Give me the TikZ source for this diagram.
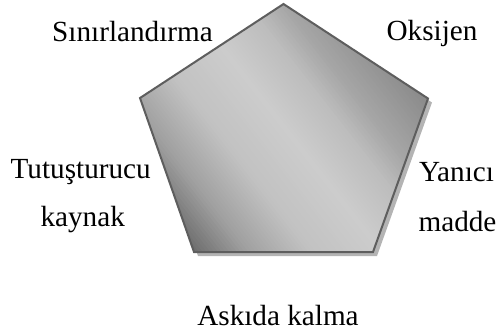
\documentclass[tikz,border=0pt]{standalone}
\usepackage{fontspec}
\setmainfont{Liberation Serif}
\definecolor{pentedge}{HTML}{5E5E5E}
\definecolor{pentshadow}{HTML}{B4B4B4}
\tikzset{
  lbl/.style={anchor=base, inner sep=0pt, font=\fontsize{14.6}{17}\selectfont},
}
\begin{document}
\begin{tikzpicture}[x=0.5pt,y=-0.5pt]
\useasboundingbox (0,0) rectangle (496,334);
\coordinate (A) at (283.5,4);
\coordinate (B) at (428,98.5);
\coordinate (C) at (373,252);
\coordinate (D) at (194,252);
\coordinate (E) at (140,98);
% shadow
\fill[pentshadow] ([shift={(4,4)}]A) -- ([shift={(4,4)}]B) -- ([shift={(4,4)}]C) -- ([shift={(4,4)}]D) -- ([shift={(4,4)}]E) -- cycle;
% pentagon gradient (strips along an axis tilted 38 degrees, dark at lower left and upper right)
\begin{scope}
\clip (A) -- (B) -- (C) -- (D) -- (E) -- cycle;
\begin{scope}[shift={(283,150)}, rotate=38]
\foreach \sa/\ga/\sb/\gb in {-200/90/-135/106, -135/106/-90/160, -90/160/-40/194, -40/194/15/204, 15/204/60/190, 60/190/90/166, 90/166/150/136, 150/136/220/124}{
  \pgfmathsetmacro\nn{int(ceil((\sb-\sa)/3))}
  \foreach \k in {1,...,\nn}{
    \pgfmathsetmacro\so{\sa+(\k-1)*(\sb-\sa)/\nn}
    \pgfmathsetmacro\st{\sa+\k*(\sb-\sa)/\nn+1.5}
    \pgfmathtruncatemacro\gg{round(\ga+(\k-0.5)*(\gb-\ga)/\nn)}
    \definecolor{stripc}{RGB}{\gg,\gg,\gg}
    \fill[stripc] (\so,-320) rectangle (\st,320);
  }
}
\end{scope}
\end{scope}
\draw[pentedge, line width=1pt, line join=miter] (A) -- (B) -- (C) -- (D) -- (E) -- cycle;
% labels
\node[lbl] (sin) at (132.5,41.7) {Sınırlandırma};
\node[lbl] (oks) at (432,40) {Oksijen};
\node[lbl] (tut) at (80.7,178) {Tutuşturucu};
\node[lbl] (kay) at (82.7,226.7) {kaynak};
\node[lbl] (yan) at (456.5,181.7) {Yanıcı};
\node[lbl] (mad) at (457.5,231.7) {madde};
\node[lbl] (ask) at (278,325) {Askıda kalma};
\end{tikzpicture}
\end{document}
